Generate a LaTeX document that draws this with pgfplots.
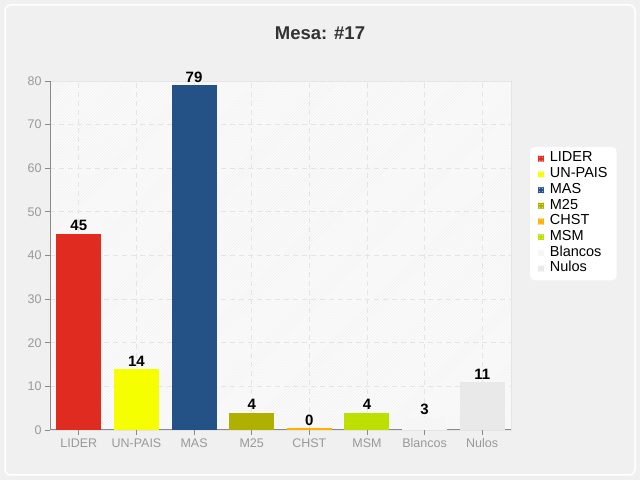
\documentclass[border=0pt]{standalone}
\usepackage{pgfplots}
\pgfplotsset{compat=1.18}
\usepackage{fontspec}
\setmainfont{Liberation Sans}
\usetikzlibrary{patterns}

\definecolor{cLIDER}{HTML}{E02B20}
\definecolor{cUNPAIS}{HTML}{F5FF00}
\definecolor{cMAS}{HTML}{245287}
\definecolor{cMtf}{HTML}{B0B000}
\definecolor{cCHST}{HTML}{FFB000}
\definecolor{cMSM}{HTML}{BDE000}
\definecolor{cBlancos}{HTML}{F6F6F6}
\definecolor{cNulos}{HTML}{E9E9E9}
\definecolor{panel}{HTML}{F0F0F0}
\definecolor{ticklab}{HTML}{999999}
\definecolor{axisgray}{HTML}{8A8A8A}
\definecolor{gridgray}{HTML}{E4E4E4}

\pgfplotsset{lsq/.style={legend image code/.code={\fill[#1] (0bp,-2.6bp) rectangle (5.2bp,2.6bp);}}}

\begin{document}
\begin{tikzpicture}
\fill[panel] (0bp,0bp) rectangle (640bp,480bp);
\draw[white, line width=1.5bp, rounded corners=6bp] (5bp,5bp) rectangle (635bp,475bp);
\node[font=\fontsize{18.5bp}{22bp}\selectfont\bfseries, text=black!80] at (320bp,447bp) {Mesa: \#17};

\begin{axis}[
    at={(50bp,50bp)}, anchor=south west,
    scale only axis,
    width=461bp, height=349bp,
    xmin=-0.5, xmax=7.5,
    ymin=0, ymax=80,
    ytick={0,10,...,80},
    xtick={0,...,7},
    xticklabels={LIDER,UN-PAIS,MAS,M25,CHST,MSM,Blancos,Nulos},
    axis x line*=bottom, axis y line*=left,
    axis line style={draw=axisgray, line width=1bp, -},
    tick align=outside,
    major tick length=5bp,
    tick style={draw=axisgray, line width=0.8bp},
    ticklabel style={font=\fontsize{12.5bp}{14bp}\selectfont, text=ticklab},
    /pgf/number format/assume math mode=true,
    xmajorgrids, ymajorgrids,
    major grid style={draw=gridgray, line width=0.8bp, dash pattern=on 5bp off 4bp},
    axis background/.style={fill=black!1.5, postaction={pattern=north east lines, pattern color=black!6}, draw=black!10},
    ybar,
    every axis plot/.append style={bar shift=0pt, bar width=45bp},
    nodes near coords,
    every node near coord/.append style={font=\fontsize{15bp}{17bp}\selectfont\bfseries, text=black, inner sep=2.5bp},
    legend cell align=left,
    legend style={at={(axis description cs:1,0.62)}, anchor=west, xshift=19bp,
        draw=none, fill=white, rounded corners=5bp,
        font=\fontsize{14.5bp}{15bp}\selectfont,
        inner xsep=8bp, inner ysep=4bp,
        nodes={text height=10bp, text depth=3.5bp, inner sep=1.1bp},
        /tikz/every odd column/.style={column sep=5bp},
        row sep=0pt},
]
\addplot[fill=cLIDER, draw=none, forget plot] coordinates {(0,45)};
\addplot[fill=cUNPAIS, draw=none, forget plot] coordinates {(1,14)};
\addplot[fill=cMAS, draw=none, forget plot] coordinates {(2,79)};
\addplot[fill=cMtf, draw=none, forget plot] coordinates {(3,4)};
\addplot[fill=cCHST, draw=cCHST, line width=3bp, forget plot] coordinates {(4,0)};
\addplot[fill=cMSM, draw=none, forget plot] coordinates {(5,4)};
\addplot[fill=cBlancos, draw=none, forget plot] coordinates {(6,3)};
\addplot[fill=cNulos, draw=none, forget plot] coordinates {(7,11)};
\addlegendimage{lsq=cLIDER}\addlegendentry{LIDER}
\addlegendimage{lsq=cUNPAIS}\addlegendentry{UN-PAIS}
\addlegendimage{lsq=cMAS}\addlegendentry{MAS}
\addlegendimage{lsq=cMtf}\addlegendentry{M25}
\addlegendimage{lsq=cCHST}\addlegendentry{CHST}
\addlegendimage{lsq=cMSM}\addlegendentry{MSM}
\addlegendimage{lsq=cBlancos}\addlegendentry{Blancos}
\addlegendimage{lsq=cNulos}\addlegendentry{Nulos}
\end{axis}
\end{tikzpicture}
\end{document}
